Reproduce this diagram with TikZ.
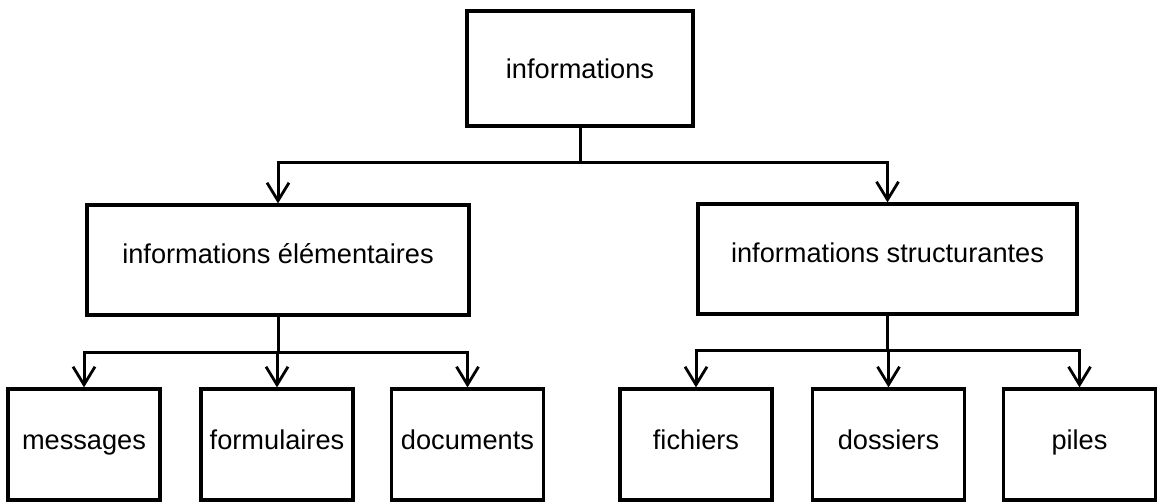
\documentclass[tikz,border=0pt]{standalone}
\usepackage{fontspec}
\setmainfont{Liberation Sans}
\usetikzlibrary{arrows.meta}
\begin{document}
\begin{tikzpicture}[x=0.5pt,y=-0.5pt,
  line width=1.5pt,
  box/.style={draw, rectangle, inner sep=0pt, line width=1.6pt,
    font=\fontsize{13.6pt}{16pt}\selectfont, text height=10pt},
  toplevel/.style={box, text depth=0.2pt},
  midlevel/.style={box, text depth=6.7pt, minimum height=55pt},
  leaf/.style={box, text depth=4.7pt, minimum width=76pt, minimum height=55.5pt},
  arr/.style={-{Straight Barb[length=9pt,width=11pt,line width=1.4pt]}}]
  \useasboundingbox (0,0) rectangle (1160,502);

  % root
  \node[toplevel, minimum width=113pt, minimum height=57.5pt] (info) at (580,68.5) {informations};

  % second level
  \node[midlevel, minimum width=191pt] (elem) at (278,260) {informations élémentaires};
  \node[midlevel, minimum width=189.5pt] (struct) at (887.5,259) {informations structurantes};

  % leaves
  \node[leaf] (msg)  at (84,444.5)   {messages};
  \node[leaf] (form) at (277,444.5)  {formulaires};
  \node[leaf] (doc)  at (467.5,444.5) {documents};
  \node[leaf] (fich) at (696,444.5)  {fichiers};
  \node[leaf] (doss) at (888.5,444.5) {dossiers};
  \node[leaf] (pile) at (1079.5,444.5) {piles};

  % horizontal distribution bars
  \coordinate (busA) at (0,163);
  \coordinate (busB) at (0,352);
  \coordinate (busC) at (0,350);

  % root -> second level
  \draw[arr] (info.south) -- (info.south |- busA) -| (elem.north);
  \draw[arr] (info.south) -- (info.south |- busA) -| (struct.north);

  % elementary information -> leaves
  \draw[arr] (elem.south) -- (elem.south |- busB) -| (msg.north);
  \draw[arr] (elem.south) -- (elem.south |- busB) -| (form.north);
  \draw[arr] (elem.south) -- (elem.south |- busB) -| (doc.north);

  % structuring information -> leaves
  \draw[arr] (struct.south) -- (struct.south |- busC) -| (fich.north);
  \draw[arr] (struct.south) -- (struct.south |- busC) -| (doss.north);
  \draw[arr] (struct.south) -- (struct.south |- busC) -| (pile.north);
\end{tikzpicture}
\end{document}
